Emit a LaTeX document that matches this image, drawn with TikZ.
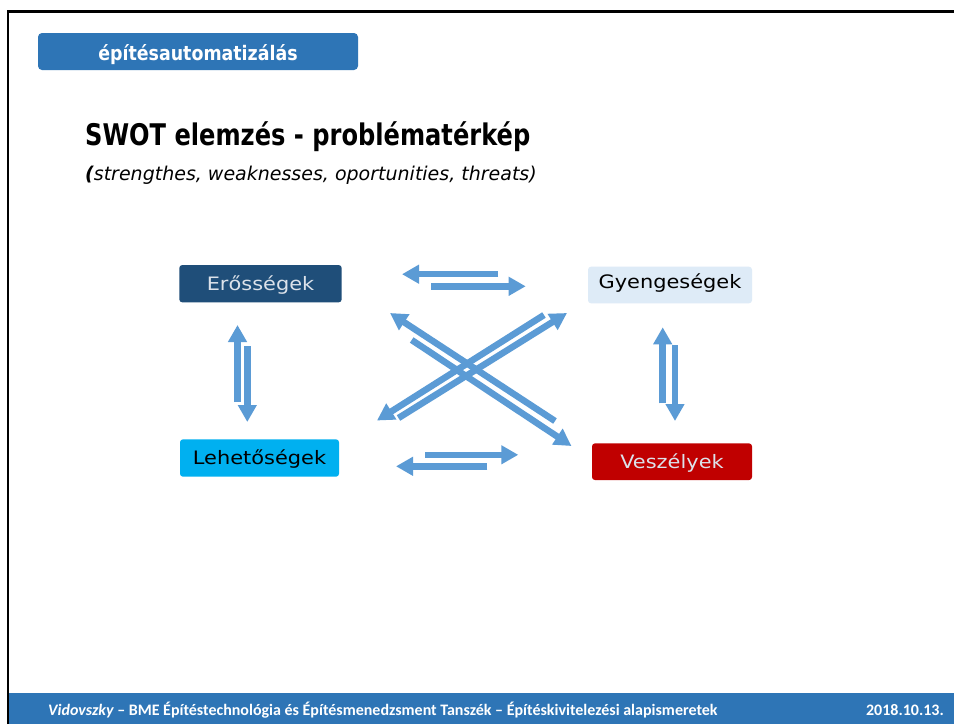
\documentclass[tikz,border=0pt]{standalone}
\usepackage{graphicx}
\usepackage{fontspec}
\setmainfont{DejaVu Sans}[ItalicFont={DejaVu Sans Oblique},BoldItalicFont={DejaVu Sans Bold Oblique}]
\newfontfamily\footfont{Carlito}
\usetikzlibrary{arrows.meta}

\definecolor{slideblue}{HTML}{2E75B6}
\definecolor{arrowblue}{HTML}{5B9BD5}
\definecolor{strongblue}{HTML}{1F4E79}
\definecolor{paleblue}{HTML}{DEEBF7}
\definecolor{cyanbox}{HTML}{00B0F0}
\definecolor{darkred}{HTML}{C00000}
\definecolor{lighttext}{HTML}{DCE2EA}

\newcommand\boxlabel[1]{\scalebox{1.13}[1]{#1}}

\begin{document}
\begin{tikzpicture}[x=1pt,y=-1pt,
  swotbox/.style={rounded corners=3pt, inner sep=0pt, text height=13.4pt, text depth=0pt,
    font=\fontsize{18.5}{20}\selectfont},
  blockarrow/.style={draw=arrowblue, line width=6.5pt, line cap=butt,
    -{Triangle[width=18pt,length=17pt]}},
  plaintext/.style={inner sep=0pt, anchor=base west},
  foottext/.style={inner sep=0pt, text=white, font=\footfont\bfseries\fontsize{16}{18}\selectfont},
]
\useasboundingbox (0,0) rectangle (954,724);
\fill[white] (0,0) rectangle (954,724);

% footer band and slide frame
\fill[slideblue] (9,693) rectangle (954,724);
\draw[line width=2.5pt] (8.2,724) -- (8.2,11.5) -- (954,11.5);

% header tag
\node[fill=slideblue, rounded corners=4pt, minimum width=320pt, minimum height=37pt,
  inner sep=0pt, text=white, text height=17pt, text depth=0pt,
  font=\bfseries\fontsize{20}{22}\selectfont] (header) at (198,51.5)
  {\scalebox{0.87}[1]{építésautomatizálás}};

% title and subtitle
\node[plaintext, font=\bfseries\fontsize{29.8}{32}\selectfont] (title) at (85,145)
  {\scalebox{0.81}[1]{SWOT elemzés - problématérkép}};
\node[plaintext, font=\itshape\fontsize{19}{21}\selectfont] (subtitle) at (85,180)
  {{\bfseries(}strengthes, weaknesses, oportunities, threats)};

% the four SWOT boxes
\node[swotbox, fill=strongblue, text=lighttext, minimum width=162.4pt, minimum height=37.3pt]
  (S) at (260.5,283.7) {\boxlabel{Erősségek}};
\node[swotbox, fill=paleblue, text=black, minimum width=164pt, minimum height=36.6pt, text depth=7pt]
  (W) at (670,285) {\boxlabel{Gyengeségek}};
\node[swotbox, fill=cyanbox, text=black, minimum width=159pt, minimum height=37.4pt]
  (O) at (259.5,458) {\boxlabel{Lehetőségek}};
\node[swotbox, fill=darkred, text=lighttext, minimum width=160pt, minimum height=36.7pt]
  (T) at (672,461.7) {\boxlabel{Veszélyek}};

% arrow end points
\coordinate (SO-up-s) at (237.5,402);   \coordinate (SO-up-t) at (237.5,325);
\coordinate (SO-dn-s) at (247.3,346);   \coordinate (SO-dn-t) at (247.3,422);
\coordinate (WT-up-s) at (662.7,403.3); \coordinate (WT-up-t) at (662.7,327.3);
\coordinate (WT-dn-s) at (675,345);     \coordinate (WT-dn-t) at (675,421);
\coordinate (SW-l-s) at (498,274.2);    \coordinate (SW-l-t) at (402,274.2);
\coordinate (SW-r-s) at (431,286.3);    \coordinate (SW-r-t) at (525.7,286.3);
\coordinate (OT-r-s) at (425,454.8);    \coordinate (OT-r-t) at (518.3,454.8);
\coordinate (OT-l-s) at (487.3,466.3);  \coordinate (OT-l-t) at (396,466.3);
\coordinate (OW-sw-s) at (544,315);     \coordinate (OW-sw-t) at (377,420.5);
\coordinate (OW-ne-s) at (398.5,418);   \coordinate (OW-ne-t) at (567,313);
\coordinate (ST-nw-s) at (555,421);     \coordinate (ST-nw-t) at (390,313);
\coordinate (ST-se-s) at (411.7,340);   \coordinate (ST-se-t) at (571.5,446);

% paired block arrows
\draw[blockarrow] (SO-up-s) -- (SO-up-t);
\draw[blockarrow] (SO-dn-s) -- (SO-dn-t);
\draw[blockarrow] (WT-up-s) -- (WT-up-t);
\draw[blockarrow] (WT-dn-s) -- (WT-dn-t);
\draw[blockarrow] (SW-l-s) -- (SW-l-t);
\draw[blockarrow] (SW-r-s) -- (SW-r-t);
\draw[blockarrow] (OT-r-s) -- (OT-r-t);
\draw[blockarrow] (OT-l-s) -- (OT-l-t);
\draw[blockarrow] (OW-sw-s) -- (OW-sw-t);
\draw[blockarrow] (OW-ne-s) -- (OW-ne-t);
\draw[blockarrow] (ST-nw-s) -- (ST-nw-t);
\draw[blockarrow] (ST-se-s) -- (ST-se-t);

% footer texts
\node[foottext, anchor=base west] (credit) at (48,715.5)
  {{\itshape Vidovszky} – BME Építéstechnológia és Építésmenedzsment Tanszék – Építéskivitelezési alapismeretek};
\node[foottext, anchor=base east] (date) at (944,715.5) {2018.10.13.};
\end{tikzpicture}
\end{document}
